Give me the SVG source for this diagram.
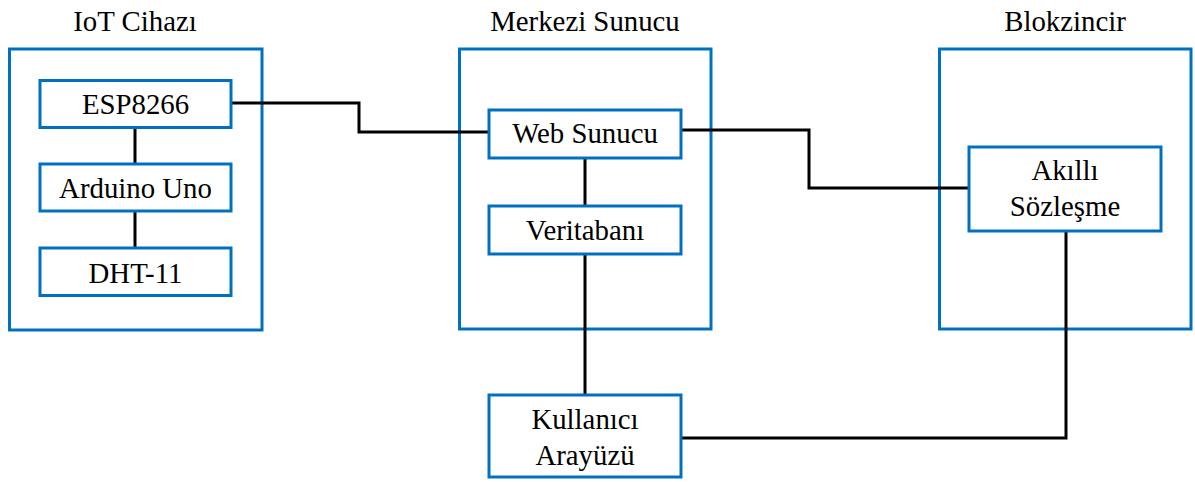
<svg xmlns="http://www.w3.org/2000/svg" width="1195" height="482" viewBox="0 0 1195 482">
<style>
.box{fill:#fff;stroke:#0070C0;stroke-width:3}
.grp{fill:none;stroke:#0070C0;stroke-width:3}
.t{font-family:"Liberation Serif","Times New Roman",serif;font-size:28.8px;fill:#000;text-anchor:middle}
.c{fill:none;stroke:#000;stroke-width:3;stroke-linejoin:miter}
</style>
<rect width="1195" height="482" fill="#fff"/>
<g id="iot-group">
<rect class="grp" x="9.5" y="49" width="252.5" height="281"/>
<text class="t" x="135" y="31">IoT Cihazı</text>
</g>
<g id="server-group">
<rect class="grp" x="459.5" y="49" width="251.5" height="280"/>
<text class="t" x="585" y="31">Merkezi Sunucu</text>
</g>
<g id="chain-group">
<rect class="grp" x="939.5" y="49" width="251.5" height="280"/>
<text class="t" x="1065" y="31">Blokzincir</text>
</g>
<g id="connectors">
<line class="c" x1="135" y1="127" x2="135" y2="164"/>
<line class="c" x1="135" y1="211" x2="135" y2="248"/>
<polyline class="c" points="231,103 359,103 359,132 489,132"/>
<line class="c" x1="585" y1="158" x2="585" y2="206"/>
<line class="c" x1="585" y1="254" x2="585" y2="395"/>
<polyline class="c" points="681,130 809,130 809,188 969,188"/>
<polyline class="c" points="1066,231 1066,438 681,438"/>
</g>
<g id="esp8266">
<rect class="box" x="40" y="80.5" width="191" height="47"/>
<text class="t" x="135.5" y="114">ESP8266</text>
</g>
<g id="arduino">
<rect class="box" x="40" y="164" width="191" height="47"/>
<text class="t" x="135.5" y="197.5">Arduino Uno</text>
</g>
<g id="dht11">
<rect class="box" x="40" y="248" width="191" height="47.5"/>
<text class="t" x="135.5" y="283">DHT-11</text>
</g>
<g id="web-sunucu">
<rect class="box" x="489" y="110" width="192" height="48"/>
<text class="t" x="585" y="143">Web Sunucu</text>
</g>
<g id="veritabani">
<rect class="box" x="489" y="206" width="192" height="48"/>
<text class="t" x="585" y="240">Veritabanı</text>
</g>
<g id="akilli-sozlesme">
<rect class="box" x="969" y="147" width="192" height="84"/>
<text class="t" x="1065" y="180">Akıllı</text>
<text class="t" x="1065" y="216">Sözleşme</text>
</g>
<g id="kullanici-arayuzu">
<rect class="box" x="489" y="395" width="192" height="82"/>
<text class="t" x="585" y="429">Kullanıcı</text>
<text class="t" x="585" y="465">Arayüzü</text>
</g>
</svg>
